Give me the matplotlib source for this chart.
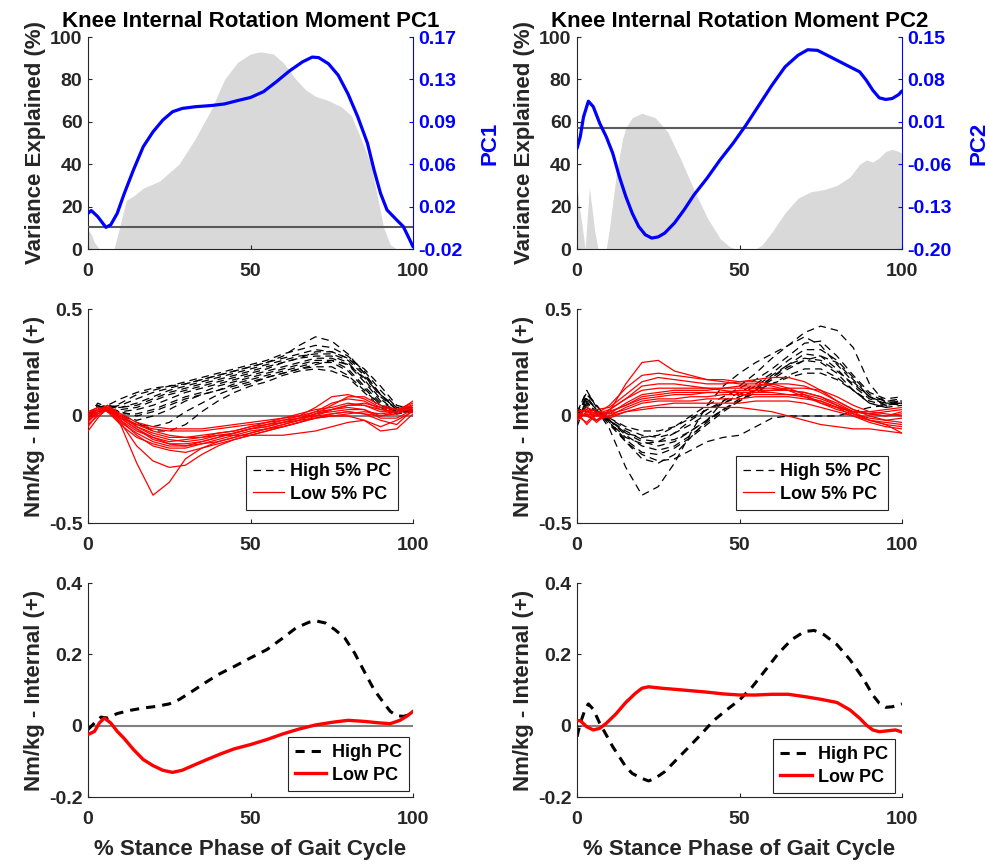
import numpy as np
import matplotlib
matplotlib.use("Agg")
import matplotlib.pyplot as plt
from matplotlib.lines import Line2D

plt.rcParams["font.family"] = ["Liberation Sans", "DejaVu Sans"]
plt.rcParams["font.weight"] = "bold"
plt.rcParams["axes.unicode_minus"] = False

# ---------------- top row: variance explained + PC loading ----------------
var1_x = [0, 1, 2, 3.5, 5, 8, 10, 11.8, 14, 17, 22, 28, 33, 38, 42, 46, 50, 53, 57,
          60, 64, 67, 70, 74, 78, 81, 84, 87, 89, 91, 93, 95, 100]
var1_y = [9, 7, 3, 0, 0, 0, 12, 23, 25, 28.7, 32, 40, 52, 66, 80, 88, 92, 93, 92,
          88, 80, 75, 72, 70, 67, 63, 52, 40, 25, 10, 2, 0, 0]

pc1_x = [0, 1, 3, 5.5, 7, 9, 11, 14, 17, 20, 23, 26, 29, 33, 38, 42, 46, 50, 54, 58,
         62, 66, 69, 71, 74, 77, 80, 83, 86, 88, 90, 92, 95, 97, 99, 100]
pc1_y = [0.012, 0.0145, 0.009, -0.0006, 0.0017, 0.012, 0.0285, 0.051, 0.0717, 0.085,
         0.0955, 0.103, 0.106, 0.1075, 0.1086, 0.110, 0.113, 0.1158, 0.121, 0.130,
         0.1396, 0.1477, 0.152, 0.1515, 0.146, 0.1357, 0.119, 0.0985, 0.0747, 0.051,
         0.030, 0.015, 0.006, 0.0002, -0.0117, -0.018]

var2_x = [0, 0.7, 1.5, 2.5, 3.8, 5.5, 6.5, 9, 10, 12, 14, 15, 17, 20, 24, 28, 32, 36,
          40, 44, 47, 49, 55, 57, 60, 64, 68, 72, 76, 80, 84, 87, 89, 91, 93, 95, 97,
          99, 100]
var2_y = [30, 20, 12, 0, 29, 8, 0, 0, 10, 34, 52, 57, 62, 64, 62, 55, 42, 28,
          15, 5, 1, 0, 0, 2, 8, 17, 24, 27, 28, 30, 34, 40, 42, 41, 43, 46, 47,
          46, 45]

pc2_x = [0, 1, 2, 3.5, 5, 7, 9, 11, 13, 15, 17, 19, 21, 23, 25, 27, 30, 33, 36, 40,
         44, 48, 52, 56, 60, 64, 68, 71, 74, 77, 80, 84, 87, 89, 91, 93, 95, 97, 99, 100]
pc2_y = [-0.034, -0.0146, 0.018, 0.044, 0.035, 0.0074, -0.0146, -0.042, -0.080,
         -0.113, -0.141, -0.163, -0.1764, -0.182, -0.180, -0.1737, -0.157, -0.135,
         -0.1106, -0.0832, -0.053, -0.0256, 0.0046, 0.0375, 0.0705, 0.1006, 0.1198,
         0.129, 0.128, 0.1198, 0.1116, 0.1006, 0.0924, 0.0787, 0.0622, 0.0496,
         0.0469, 0.0485, 0.055, 0.061]

# ---------------- middle row: individual curves (High / Low 5%) ----------------
mid_x = [0, 3, 6, 10, 15, 20, 25, 30, 35, 40, 45, 50, 55, 60, 65, 70, 75, 80, 85, 90, 95, 100]

high1 = [
    [0.00, 0.04, 0.05, 0.08, 0.11, 0.13, 0.14, 0.15, 0.17, 0.19, 0.21, 0.23, 0.25, 0.28, 0.33, 0.37, 0.35, 0.29, 0.20, 0.10, 0.03, 0.03],
    [0.00, 0.05, 0.03, 0.06, 0.10, 0.12, 0.14, 0.16, 0.18, 0.20, 0.22, 0.24, 0.26, 0.29, 0.31, 0.33, 0.32, 0.28, 0.21, 0.12, 0.04, 0.02],
    [0.01, 0.03, 0.04, 0.05, 0.08, 0.11, 0.13, 0.15, 0.17, 0.19, 0.21, 0.23, 0.25, 0.27, 0.29, 0.31, 0.30, 0.27, 0.22, 0.14, 0.05, 0.03],
    [0.00, 0.06, 0.04, 0.04, 0.06, 0.09, 0.12, 0.14, 0.16, 0.18, 0.20, 0.22, 0.24, 0.26, 0.28, 0.29, 0.29, 0.26, 0.19, 0.09, 0.03, 0.04],
    [-0.01, 0.03, 0.05, 0.03, 0.04, 0.07, 0.10, 0.12, 0.14, 0.16, 0.18, 0.20, 0.22, 0.25, 0.27, 0.28, 0.28, 0.25, 0.17, 0.08, 0.02, 0.02],
    [0.00, 0.02, 0.03, 0.02, 0.03, 0.05, 0.08, 0.11, 0.13, 0.15, 0.17, 0.19, 0.21, 0.23, 0.25, 0.27, 0.27, 0.24, 0.16, 0.07, 0.02, 0.03],
    [0.01, 0.04, 0.02, 0.01, 0.01, 0.03, 0.06, 0.09, 0.11, 0.14, 0.16, 0.18, 0.20, 0.22, 0.24, 0.26, 0.26, 0.22, 0.14, 0.06, 0.01, 0.02],
    [0.00, 0.03, 0.03, 0.00, -0.02, 0.00, 0.03, 0.07, 0.10, 0.12, 0.15, 0.17, 0.19, 0.21, 0.23, 0.25, 0.25, 0.21, 0.13, 0.05, 0.02, 0.03],
    [0.00, 0.05, 0.02, -0.01, -0.04, -0.05, -0.03, 0.02, 0.06, 0.10, 0.13, 0.15, 0.18, 0.20, 0.22, 0.23, 0.23, 0.19, 0.12, 0.05, 0.02, 0.02],
    [0.01, 0.02, 0.03, 0.01, -0.03, -0.07, -0.07, -0.04, 0.02, 0.07, 0.11, 0.14, 0.16, 0.19, 0.21, 0.22, 0.21, 0.18, 0.11, 0.04, 0.01, 0.03],
    [0.00, 0.03, 0.04, 0.02, 0.00, 0.02, 0.05, 0.08, 0.10, 0.12, 0.14, 0.16, 0.18, 0.20, 0.22, 0.24, 0.26, 0.24, 0.18, 0.10, 0.03, 0.02],
    [0.00, 0.04, 0.05, 0.04, 0.05, 0.08, 0.11, 0.13, 0.15, 0.17, 0.19, 0.21, 0.23, 0.25, 0.27, 0.30, 0.30, 0.27, 0.20, 0.10, 0.04, 0.04],
]
low1 = [
    [-0.02, 0.02, 0.04, -0.04, -0.22, -0.37, -0.31, -0.20, -0.15, -0.12, -0.10, -0.08, -0.06, -0.05, -0.03, -0.01, 0.01, 0.02, 0.01, 0.00, 0.02, 0.04],
    [0.00, 0.03, 0.03, -0.03, -0.14, -0.21, -0.24, -0.23, -0.18, -0.14, -0.11, -0.09, -0.07, -0.05, -0.03, -0.01, 0.00, 0.01, 0.02, 0.01, 0.02, 0.03],
    [-0.05, 0.01, 0.04, -0.02, -0.09, -0.14, -0.16, -0.17, -0.15, -0.13, -0.11, -0.09, -0.07, -0.05, -0.03, 0.00, 0.03, 0.05, 0.06, 0.04, 0.03, 0.05],
    [0.01, 0.04, 0.02, -0.04, -0.10, -0.13, -0.15, -0.15, -0.13, -0.11, -0.09, -0.07, -0.06, -0.04, -0.02, 0.01, 0.05, 0.09, 0.09, 0.05, 0.03, 0.06],
    [-0.03, 0.02, 0.05, -0.01, -0.06, -0.11, -0.13, -0.13, -0.12, -0.10, -0.08, -0.06, -0.05, -0.03, -0.01, 0.02, 0.06, 0.08, 0.07, 0.03, 0.02, 0.04],
    [0.00, 0.03, 0.04, 0.00, -0.05, -0.09, -0.11, -0.12, -0.11, -0.09, -0.08, -0.06, -0.04, -0.02, 0.00, 0.04, 0.09, 0.10, 0.08, 0.04, 0.03, 0.05],
    [-0.02, 0.01, 0.03, -0.02, -0.07, -0.10, -0.12, -0.11, -0.10, -0.09, -0.09, -0.09, -0.09, -0.09, -0.08, -0.07, -0.05, -0.03, -0.02, -0.05, -0.02, 0.02],
    [0.02, 0.04, 0.03, -0.01, -0.04, -0.07, -0.09, -0.10, -0.09, -0.08, -0.07, -0.05, -0.04, -0.03, -0.02, -0.01, 0.00, 0.00, -0.02, -0.07, -0.06, 0.01],
    [-0.07, -0.01, 0.04, 0.00, -0.04, -0.06, -0.07, -0.07, -0.07, -0.06, -0.05, -0.04, -0.03, -0.02, -0.01, 0.00, 0.01, 0.02, 0.01, -0.02, -0.04, 0.03],
    [0.00, 0.02, 0.04, 0.01, -0.03, -0.05, -0.06, -0.06, -0.06, -0.05, -0.04, -0.03, -0.02, -0.01, 0.00, 0.02, 0.03, 0.05, 0.05, 0.03, 0.02, 0.07],
    [-0.04, 0.00, 0.03, -0.01, -0.06, -0.10, -0.13, -0.14, -0.13, -0.12, -0.10, -0.08, -0.06, -0.04, -0.02, 0.01, 0.03, 0.04, 0.03, -0.01, -0.01, 0.03],
    [0.01, 0.03, 0.05, 0.01, -0.05, -0.08, -0.10, -0.10, -0.10, -0.08, -0.07, -0.05, -0.03, -0.01, 0.01, 0.03, 0.04, 0.06, 0.05, 0.02, 0.02, 0.05],
    [-0.01, 0.02, 0.03, -0.03, -0.08, -0.12, -0.14, -0.14, -0.12, -0.10, -0.08, -0.06, -0.05, -0.03, -0.01, 0.01, 0.02, 0.03, 0.03, 0.00, 0.01, 0.04],
]

high2 = [
    [-0.03, 0.08, 0.03, -0.06, -0.24, -0.37, -0.33, -0.22, -0.08, 0.05, 0.14, 0.20, 0.25, 0.29, 0.33, 0.37, 0.33, 0.24, 0.16, 0.09, 0.06, 0.06],
    [0.00, 0.10, 0.05, -0.03, -0.12, -0.20, -0.22, -0.18, -0.10, -0.02, 0.07, 0.14, 0.20, 0.27, 0.33, 0.39, 0.42, 0.40, 0.32, 0.15, 0.06, 0.05],
    [0.00, 0.06, 0.02, -0.04, -0.12, -0.18, -0.21, -0.20, -0.16, -0.12, -0.10, -0.09, -0.05, -0.01, 0.00, 0.00, 0.00, 0.00, 0.02, 0.04, 0.05, 0.06],
    [0.01, 0.12, 0.04, -0.02, -0.09, -0.14, -0.16, -0.14, -0.09, -0.03, 0.03, 0.08, 0.13, 0.18, 0.24, 0.29, 0.28, 0.22, 0.14, 0.08, 0.06, 0.07],
    [-0.02, 0.05, 0.02, -0.01, -0.06, -0.09, -0.10, -0.08, -0.04, 0.01, 0.06, 0.10, 0.14, 0.19, 0.24, 0.27, 0.26, 0.21, 0.15, 0.09, 0.07, 0.08],
    [0.00, 0.09, 0.03, -0.03, -0.10, -0.13, -0.12, -0.08, -0.02, 0.03, 0.07, 0.11, 0.15, 0.20, 0.26, 0.31, 0.31, 0.26, 0.18, 0.10, 0.07, 0.07],
    [-0.05, 0.07, 0.01, -0.02, -0.07, -0.11, -0.12, -0.11, -0.07, -0.02, 0.03, 0.07, 0.11, 0.15, 0.19, 0.22, 0.22, 0.18, 0.12, 0.07, 0.05, 0.06],
    [0.00, 0.04, 0.01, -0.01, -0.05, -0.07, -0.07, -0.05, -0.01, 0.03, 0.06, 0.09, 0.12, 0.15, 0.18, 0.20, 0.20, 0.17, 0.12, 0.06, 0.04, 0.05],
    [0.02, 0.11, 0.05, -0.02, -0.08, -0.12, -0.14, -0.12, -0.07, -0.02, 0.03, 0.07, 0.12, 0.18, 0.23, 0.26, 0.25, 0.20, 0.12, 0.06, 0.04, 0.08],
    [-0.01, 0.06, 0.02, -0.03, -0.11, -0.17, -0.18, -0.15, -0.10, -0.04, 0.02, 0.07, 0.12, 0.17, 0.22, 0.26, 0.28, 0.25, 0.17, 0.09, 0.05, 0.07],
    [0.00, 0.08, 0.03, -0.02, -0.08, -0.10, -0.09, -0.05, 0.00, 0.05, 0.09, 0.13, 0.17, 0.22, 0.28, 0.34, 0.35, 0.28, 0.19, 0.11, 0.08, 0.09],
]
low2 = [
    [0.00, 0.03, -0.02, 0.02, 0.15, 0.25, 0.26, 0.21, 0.19, 0.17, 0.16, 0.15, 0.15, 0.14, 0.12, 0.09, 0.06, 0.04, 0.02, 0.01, 0.00, 0.01],
    [0.02, -0.04, 0.01, 0.05, 0.13, 0.19, 0.20, 0.19, 0.18, 0.17, 0.17, 0.16, 0.16, 0.15, 0.13, 0.10, 0.06, 0.03, 0.01, -0.01, -0.02, -0.01],
    [-0.02, 0.02, 0.03, 0.04, 0.10, 0.16, 0.18, 0.17, 0.16, 0.15, 0.15, 0.16, 0.17, 0.18, 0.18, 0.16, 0.12, 0.07, 0.03, 0.01, 0.00, 0.02],
    [0.01, 0.00, -0.02, 0.03, 0.08, 0.12, 0.13, 0.13, 0.13, 0.13, 0.13, 0.14, 0.14, 0.15, 0.15, 0.14, 0.11, 0.07, 0.03, 0.00, -0.02, -0.03],
    [0.00, 0.04, 0.02, 0.01, 0.06, 0.10, 0.11, 0.12, 0.12, 0.12, 0.13, 0.13, 0.13, 0.13, 0.12, 0.11, 0.09, 0.06, 0.02, -0.02, -0.04, -0.05],
    [-0.01, 0.01, -0.03, 0.02, 0.05, 0.08, 0.09, 0.10, 0.10, 0.11, 0.11, 0.12, 0.12, 0.12, 0.12, 0.11, 0.09, 0.05, 0.02, 0.01, 0.02, 0.03],
    [0.03, 0.02, 0.00, 0.00, 0.04, 0.07, 0.08, 0.08, 0.09, 0.09, 0.10, 0.10, 0.10, 0.10, 0.10, 0.10, 0.08, 0.05, 0.01, -0.02, -0.03, -0.04],
    [0.00, -0.03, 0.02, 0.01, 0.03, 0.06, 0.07, 0.07, 0.07, 0.08, 0.08, 0.08, 0.09, 0.09, 0.09, 0.08, 0.07, 0.04, 0.00, -0.03, -0.05, -0.06],
    [-0.02, 0.02, 0.01, -0.01, 0.02, 0.04, 0.05, 0.06, 0.06, 0.06, 0.06, 0.06, 0.07, 0.07, 0.07, 0.06, 0.04, 0.02, 0.00, -0.02, -0.04, -0.08],
    [0.01, 0.00, -0.02, 0.00, 0.02, 0.03, 0.04, 0.04, 0.04, 0.04, 0.04, 0.04, 0.03, 0.02, 0.00, -0.02, -0.04, -0.05, -0.06, -0.06, -0.07, -0.08],
    [0.02, 0.03, 0.01, 0.03, 0.08, 0.14, 0.15, 0.15, 0.14, 0.13, 0.12, 0.11, 0.11, 0.11, 0.10, 0.09, 0.07, 0.04, 0.02, 0.02, 0.03, 0.04],
    [-0.01, 0.01, 0.00, 0.02, 0.05, 0.09, 0.10, 0.11, 0.11, 0.11, 0.11, 0.11, 0.11, 0.12, 0.13, 0.13, 0.12, 0.09, 0.05, 0.02, 0.01, 0.00],
]

# ---------------- bottom row: mean High / Low PC ----------------
hi1_x = [0, 2, 4, 6, 9, 13, 17, 21, 25, 28, 32, 36, 40, 45, 50, 55, 60, 64, 68, 70, 73,
         76, 79, 82, 85, 88, 91, 93, 95, 97, 99, 100]
hi1_y = [-0.011, 0.0075, 0.024, 0.0215, 0.034, 0.043, 0.0495, 0.054, 0.061, 0.073, 0.096,
         0.12, 0.143, 0.166, 0.19, 0.213, 0.246, 0.274, 0.29, 0.294, 0.288, 0.269, 0.246,
         0.204, 0.152, 0.101, 0.0636, 0.040, 0.028, 0.026, 0.031, 0.026]
lo1_x = [0, 2, 3.5, 5, 7, 9, 11, 14, 17, 20, 23, 26, 29, 33, 37, 41, 45, 50, 55, 60, 65,
         70, 75, 80, 85, 90, 93, 96, 98, 100]
lo1_y = [-0.025, -0.016, 0.0075, 0.0215, 0.0075, -0.016, -0.0346, -0.067, -0.095, -0.112,
         -0.125, -0.131, -0.125, -0.109, -0.0935, -0.0785, -0.065, -0.053, -0.039, -0.023,
         -0.0093, 0.002, 0.0093, 0.015, 0.012, 0.0075, 0.0056, 0.015, 0.026, 0.040]

hi2_x = [0, 1, 2.5, 3.5, 5, 7, 9, 11, 13, 15, 17, 20, 22, 24, 27, 30, 34, 38, 42, 46, 50,
         54, 58, 62, 66, 70, 73, 76, 80, 84, 88, 91, 93, 95, 97, 99, 100]
hi2_y = [-0.031, 0.0066, 0.046, 0.061, 0.046, 0.0066, -0.026, -0.059, -0.087, -0.115,
         -0.134, -0.148, -0.155, -0.148, -0.129, -0.101, -0.0637, -0.026, 0.014, 0.044,
         0.072, 0.1097, 0.156, 0.203, 0.241, 0.264, 0.267, 0.255, 0.227, 0.185, 0.133,
         0.086, 0.063, 0.0515, 0.053, 0.058, 0.061]
lo2_x = [0, 1, 3, 5, 7, 9, 12, 15, 18, 20, 22, 26, 30, 35, 40, 45, 50, 55, 60, 65, 70,
         75, 80, 84, 87, 89, 91, 93, 96, 98, 100]
lo2_y = [0.014, 0.014, -0.003, -0.012, -0.0075, 0.0066, 0.033, 0.065, 0.091, 0.105, 0.109,
         0.105, 0.102, 0.098, 0.094, 0.089, 0.086, 0.086, 0.088, 0.088, 0.0815, 0.074,
         0.065, 0.044, 0.0206, 0.0019, -0.012, -0.017, -0.014, -0.012, -0.018]

titles = ["Knee Internal Rotation Moment PC1", "Knee Internal Rotation Moment PC2"]
pc_names = ["PC1", "PC2"]
pc_lims = [(-0.02, 0.17), (-0.20, 0.15)]

FS_LAB = 16     # titles / axis labels
FS_TICK = 14    # tick labels
FS_LEG = 13
TXT = "#262626"
BLUE = "#0000FF"
GRAY_FILL = "#d9d9d9"

fig = plt.figure(figsize=(9.9, 8.66), dpi=100)
col_x = [88 / 990, 577 / 990]
col_w = 325 / 990
rows_px = [(37, 249), (309, 523), (583, 797)]


def make_ax(col, row):
    top, bot = rows_px[row]
    return fig.add_axes([col_x[col], 1 - bot / 866, col_w, (bot - top) / 866])


def style(ax):
    ax.spines["top"].set_visible(False)
    ax.spines["right"].set_visible(False)
    for s in ["left", "bottom"]:
        ax.spines[s].set_linewidth(0.8)
        ax.spines[s].set_color(TXT)
    ax.tick_params(direction="in", length=3, width=0.8, labelsize=FS_TICK, colors=TXT)
    ax.tick_params(axis="x", pad=10)
    ax.tick_params(axis="y", pad=4)
    for lab in ax.get_xticklabels() + ax.get_yticklabels():
        lab.set_fontweight("bold")
    ax.set_xlim(0, 100)
    ax.set_xticks([0, 50, 100])


def add_legend(ax, handles, labels, anchor, hlen):
    leg = ax.legend(handles, labels, loc="lower right", bbox_to_anchor=anchor,
                    borderaxespad=0, fancybox=False, framealpha=1, edgecolor="#262626",
                    prop={"size": FS_LEG, "weight": "bold"}, handlelength=hlen,
                    borderpad=0.4, labelspacing=0.3, handletextpad=0.3)
    leg.get_frame().set_linewidth(0.8)


var_x = [var1_x, var2_x]
var_y = [var1_y, var2_y]
pc_x = [pc1_x, pc2_x]
pc_y = [pc1_y, pc2_y]
highs = [high1, high2]
lows = [low1, low2]
hi_x = [hi1_x, hi2_x]
hi_y = [hi1_y, hi2_y]
lo_x = [lo1_x, lo2_x]
lo_y = [lo1_y, lo2_y]
mid_anchor = [(0.954, 0.061), (0.957, 0.061)]
bot_anchor = [(0.988, 0.028), (0.978, 0.019)]

for c in range(2):
    # top: variance explained (gray) with the PC on a right-hand axis
    ax = make_ax(c, 0)
    ax.fill_between(var_x[c], 0, var_y[c], color=GRAY_FILL, lw=0)
    ax.set_ylim(0, 100)
    ax.set_yticks([0, 20, 40, 60, 80, 100])
    style(ax)
    ax.set_ylabel("Variance Explained (%)", fontsize=FS_LAB, fontweight="bold", color=TXT, labelpad=3)
    ax.set_title(titles[c], fontsize=FS_LAB, fontweight="bold", color="black", pad=7)
    ax2 = ax.twinx()
    lo, hi = pc_lims[c]
    ax2.set_ylim(lo, hi)
    ax2.set_xlim(0, 100)
    ax2.axhline(0, color="#5a5a5a", lw=1.5, zorder=1)
    ax2.plot(pc_x[c], pc_y[c], color=BLUE, lw=2.3, solid_capstyle="round", zorder=3)
    ticks = np.linspace(lo, hi, 6)
    ax2.set_yticks(ticks)
    ax2.set_yticklabels([f"{t:.2f}" for t in ticks])
    for s in ["top", "left", "bottom"]:
        ax2.spines[s].set_visible(False)
    ax2.spines["right"].set_color(BLUE)
    ax2.spines["right"].set_linewidth(0.8)
    ax2.tick_params(axis="y", direction="in", length=3, width=0.8, colors=BLUE,
                    labelsize=FS_TICK, labelcolor=BLUE, pad=4)
    for lab in ax2.get_yticklabels():
        lab.set_fontweight("bold")
    ax2.set_ylabel(pc_names[c], fontsize=FS_LAB, fontweight="bold", color=BLUE, labelpad=12)

    # middle: individual trials
    ax = make_ax(c, 1)
    ax.axhline(0, color="#808080", lw=1.5, zorder=1)
    for y in highs[c]:
        ax.plot(mid_x, y, color="black", lw=0.9, dashes=(6, 4), zorder=2)
    for y in lows[c]:
        ax.plot(mid_x, y, color="red", lw=0.9, zorder=3)
    ax.set_ylim(-0.5, 0.5)
    ax.set_yticks([-0.5, 0, 0.5])
    ax.set_yticklabels(["-0.5", "0", "0.5"])
    style(ax)
    ax.set_ylabel("Nm/kg - Internal (+)", fontsize=FS_LAB, fontweight="bold", color=TXT, labelpad=3)
    handles = [Line2D([], [], color="black", lw=0.9, dashes=(6, 4)),
               Line2D([], [], color="red", lw=0.9)]
    add_legend(ax, handles, ["High 5% PC", "Low 5% PC"], mid_anchor[c], 1.7)

    # bottom: group means
    ax = make_ax(c, 2)
    ax.axhline(0, color="#808080", lw=1.5, zorder=1)
    ax.plot(hi_x[c], hi_y[c], color="black", lw=2.2, dashes=(3, 2.3), zorder=2)
    ax.plot(lo_x[c], lo_y[c], color="red", lw=2.4, zorder=3)
    ax.set_ylim(-0.2, 0.4)
    ax.set_yticks([-0.2, 0, 0.2, 0.4])
    ax.set_yticklabels(["-0.2", "0", "0.2", "0.4"])
    style(ax)
    ax.set_ylabel("Nm/kg - Internal (+)", fontsize=FS_LAB, fontweight="bold", color=TXT, labelpad=3)
    ax.set_xlabel("% Stance Phase of Gait Cycle", fontsize=FS_LAB, fontweight="bold", color=TXT, labelpad=8)
    handles = [Line2D([], [], color="black", lw=2.2, dashes=(3, 2.3)),
               Line2D([], [], color="red", lw=2.4)]
    add_legend(ax, handles, ["High PC", "Low PC"], bot_anchor[c], 1.75)

fig.savefig("out.png", dpi=100)
